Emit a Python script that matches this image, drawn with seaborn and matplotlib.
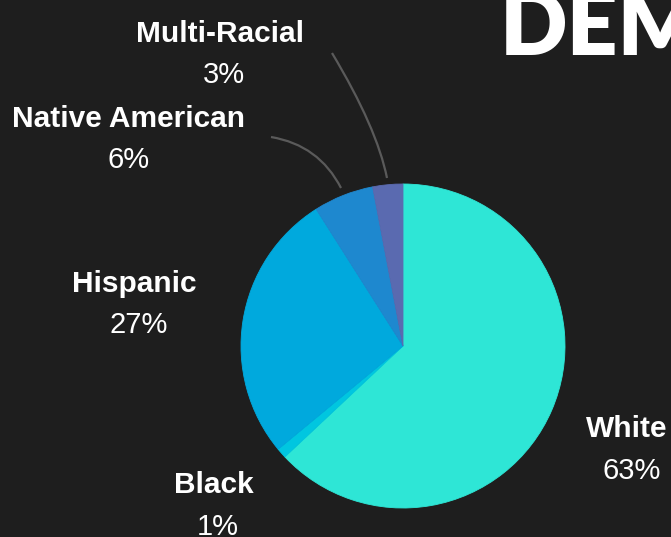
import matplotlib.pyplot as plt
import seaborn as sns
from matplotlib.path import Path
from matplotlib.patches import PathPatch

# data
groups = ["White", "Black", "Hispanic", "Native American", "Multi-Racial"]
shares = [63, 1, 27, 6, 3]
slice_colors = ["#2ee6d6", "#00c6e0", "#00a9dd", "#1e88cf", "#5a6ab0"]

BG = "#1e1e1e"
W, H = 671, 537

sns.set_theme(style="dark", rc={"axes.facecolor": BG, "figure.facecolor": BG})
plt.rcParams["font.family"] = ["Liberation Sans", "DejaVu Sans"]

fig = plt.figure(figsize=(W / 100, H / 100), dpi=100)
ax = fig.add_axes([0, 0, 1, 1])

palette = sns.color_palette(slice_colors)
wedges, _ = ax.pie(
    shares,
    colors=palette,
    startangle=90,
    counterclock=False,
    center=(403, H - 346),
    radius=162,
)
for w in wedges:
    w.set_edgecolor(w.get_facecolor())
    w.set_linewidth(0.6)
ax.set_xlim(0, W)
ax.set_ylim(0, H)
ax.set_aspect("auto")
ax.axis("off")

# label layout (pixel positions, y from top): name centre x, name baseline, pct centre x, pct baseline
label_pos = {
    "White": (627, 437, 632, 479),
    "Black": (214, 493, 218, 535),
    "Hispanic": (134, 292, 139, 333),
    "Native American": (129, 127, 129, 168),
    "Multi-Racial": (220, 42, 224, 83),
}
for g, s in zip(groups, shares):
    nx, ny, px, py = label_pos[g]
    ax.text(nx, H - ny, g, ha="center", va="baseline", color="white",
            fontsize=21.5, fontweight="bold")
    ax.text(px, H - py, f"{s}%", ha="center", va="baseline", color="white",
            fontsize=21)

# leader lines for the small slices
leaders = [
    [(271, 137), (319, 145), (341, 188)],
    [(332, 53), (377, 128), (387, 178)],
]
for pts in leaders:
    verts = [(x, H - y) for x, y in pts]
    path = Path(verts, [Path.MOVETO, Path.CURVE3, Path.CURVE3])
    ax.add_patch(PathPatch(path, facecolor="none", edgecolor="#5a5a5a", lw=1.6))

# big title, cut by the right edge
ax.text(500, H - 56, "DEMOGRAPHICS", ha="left", va="baseline", color="white",
        fontsize=64, fontweight="heavy", family=["Lato", "DejaVu Sans"])

fig.savefig("out.png", dpi=100, facecolor=BG)
